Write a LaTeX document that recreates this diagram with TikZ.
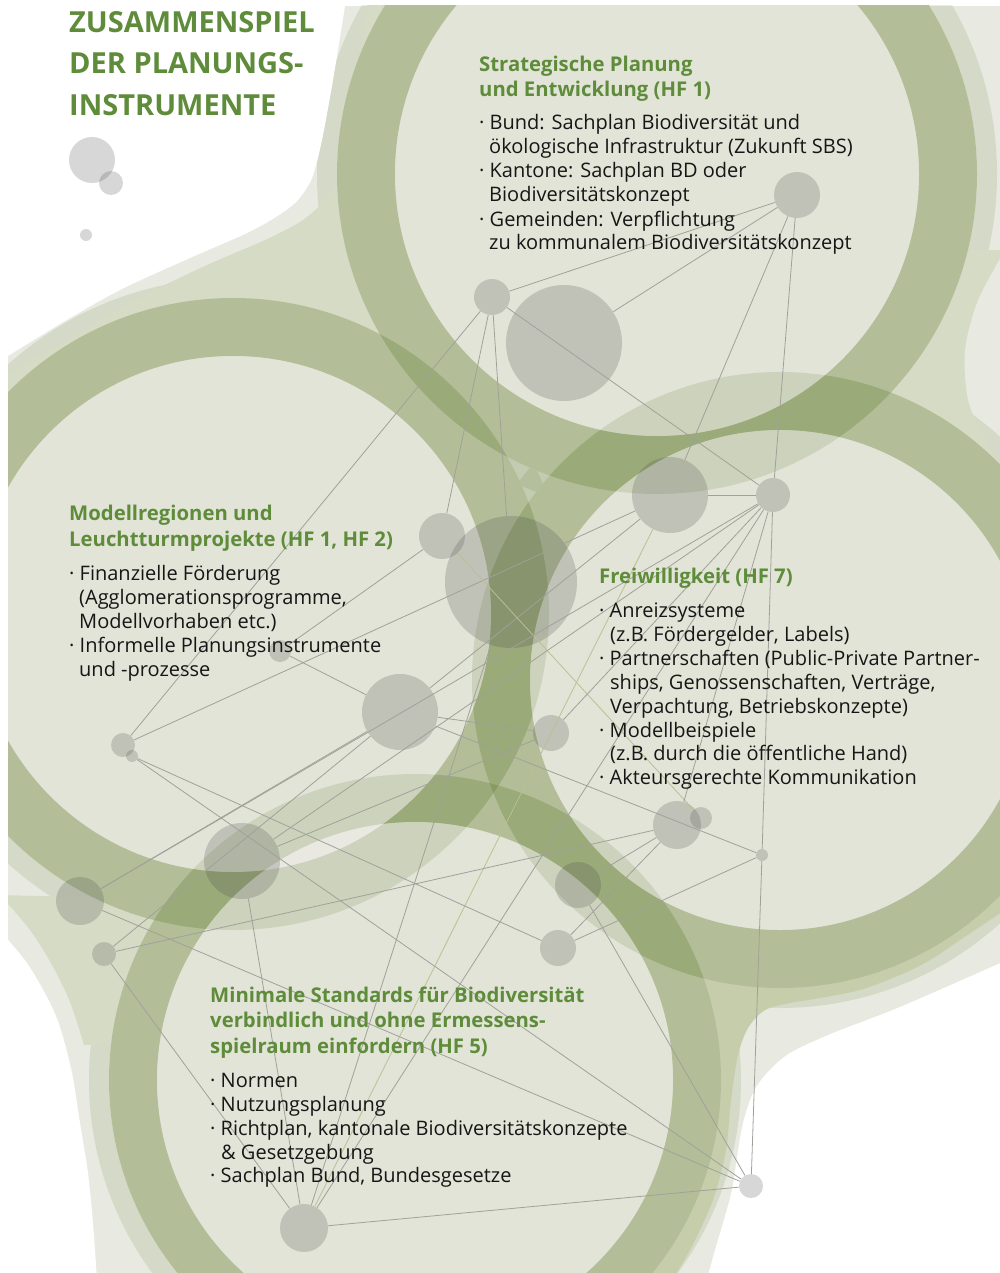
\documentclass[tikz,border=0pt]{standalone}
\usepackage{fontspec}
\setmainfont{Open Sans}
\definecolor{blobA}{RGB}{232,234,225}
\definecolor{neckL}{RGB}{214,219,197}
\definecolor{neckD}{RGB}{198,205,171}
\definecolor{ringC}{RGB}{92,121,43}
\definecolor{innerC}{RGB}{244,242,242}
\definecolor{dotC}{RGB}{70,70,70}
\definecolor{lineC}{RGB}{160,161,154}
\definecolor{oliveL}{RGB}{186,192,146}
\definecolor{titleC}{RGB}{94,140,58}
\definecolor{bodyC}{RGB}{22,22,22}
\begin{document}
\begin{tikzpicture}[x=1pt,y=-1pt,
  dot/.style={circle, inner sep=0pt, draw=none, fill=dotC, fill opacity=0.21},
  edge/.style={draw=lineC, line width=0.8pt},
  oedge/.style={draw=oliveL, line width=0.8pt},
  ttl/.style={anchor=base west, inner sep=0pt, text=titleC, font=\fontsize{29}{41}\selectfont\bfseries},
  hd/.style={anchor=base west, inner sep=0pt, text=titleC, font=\fontsize{20.3}{25}\selectfont\bfseries},
  bd/.style={anchor=base west, inner sep=0pt, text=bodyC, font=\fontsize{20}{24}\selectfont},
  halo/.style={fill=ringC, fill opacity=0.14, even odd rule},
  ring/.style={fill=ringC, fill opacity=0.286, even odd rule},
  inner/.style={fill=innerC, fill opacity=0.4}
]
\useasboundingbox (0,0) rectangle (1000,1273);
\coordinate (cT) at (657,174);
\coordinate (cL) at (233,614);
\coordinate (cR) at (780,680);
\coordinate (cB) at (415,1080);
\begin{scope}
\clip (8,6) rectangle (1000,1273);
\fill[blobA] (8,6) rectangle (1000,1273);
% halos
\fill[halo] (cT) circle (340pt) (cT) circle (320pt);
\fill[halo] (cL) circle (336pt) (cL) circle (316pt);
\fill[halo] (cR) circle (328pt) (cR) circle (308pt);
\fill[halo] (cB) circle (326pt) (cB) circle (306pt);
% necks
\fill[neckL] (450,0) -- plot[smooth] coordinates {(368,0) (358,80) (347,140) (337,178) (322,203) (300,222) (265,240) (205,266) (135,300) (70,338) (0,378)} -- (0,450) -- (300,450) -- (450,250) -- cycle;
\fill[neckL] plot[smooth] coordinates {(0,895) (30,930) (52,965) (70,1002) (84,1045)} -- (200,1040) -- (200,900) -- cycle;
\fill[neckL] plot[smooth] coordinates {(1005,250) (978,300) (965,350) (968,400) (985,440) (1005,470)} -- (850,470) -- (850,250) -- cycle;
\fill[neckD] plot[smooth] coordinates {(1005,910) (960,940) (930,960) (900,975) (860,990) (820,998) (790,1003) (765,1010) (748,1028) (738,1055) (731,1100) (726,1150) (713,1200) (690,1250) (672,1280)} -- (500,1280) -- (600,900) -- (1005,800) -- cycle;
% white regions
\fill[white] (0,0) -- plot[smooth] coordinates {(345,0) (345,6) (333,80) (322,140) (312,178) (297,201) (276,217) (245,234) (190,258) (120,290) (60,324) (0,361)} -- cycle;
\fill[white] (0,930) -- plot[smooth] coordinates {(3,934) (27,963) (47,997) (60,1027) (72,1073) (80,1123) (88,1173) (93,1223) (97,1280)} -- (0,1280) -- cycle;
\fill[white] plot[smooth] coordinates {(1005,961) (900,1007) (833,1033) (790,1053) (767,1073) (753,1093) (743,1123) (737,1157) (732,1190) (723,1223) (713,1257) (707,1280)} -- (1005,1280) -- cycle;
% disks
\fill[neckL] (cT) circle (320pt);
\fill[neckL] (cL) circle (316pt);
\fill[neckL] (cR) circle (308pt);
\fill[neckL] (cB) circle (306pt);
% rings
\fill[ring] (cT) circle (320pt) (cT) circle (262pt);
\fill[ring] (cL) circle (316pt) (cL) circle (258pt);
\fill[ring] (cR) circle (308pt) (cR) circle (250pt);
\fill[ring] (cB) circle (306pt) (cB) circle (258pt);
% interiors
\fill[inner] (cT) circle (262pt);
\fill[inner] (cL) circle (258pt);
\fill[inner] (cR) circle (250pt);
\fill[inner] (cB) circle (258pt);
\end{scope}
% nodes
\node[dot, minimum size=46pt] (A) at (92,160) {};
\node[dot, minimum size=24pt] (B) at (111,183) {};
\node[dot, minimum size=12pt] (C) at (86,235) {};
\node[dot, minimum size=36pt] (D) at (492,297) {};
\node[dot, minimum size=46pt] (E) at (797,195) {};
\node[dot, minimum size=116pt] (F) at (564,343) {};
\node[dot, minimum size=76pt] (G) at (670,495) {};
\node[dot, minimum size=34pt] (H) at (773,495) {};
\node[dot, minimum size=46pt] (I) at (442,536) {};
\node[dot, minimum size=132pt] (J) at (511,582) {};
\node[dot, minimum size=22pt] (K) at (280,651) {};
\node[dot, minimum size=76pt] (L) at (400,712) {};
\node[dot, minimum size=24pt] (M) at (123,745) {};
\node[dot, minimum size=12pt] (N) at (132,756) {};
\node[dot, minimum size=36pt] (O) at (551,733) {};
\node[dot, minimum size=48pt] (P) at (677,825) {};
\node[dot, minimum size=22pt] (Q) at (701,818) {};
\node[dot, minimum size=12pt] (R) at (762,855) {};
\node[dot, minimum size=76pt] (S) at (242,861) {};
\node[dot, minimum size=48pt] (T) at (80,901) {};
\node[dot, minimum size=46pt] (U) at (578,885) {};
\node[dot, minimum size=24pt] (V) at (104,954) {};
\node[dot, minimum size=36pt] (W) at (558,948) {};
\node[dot, minimum size=24pt] (X) at (751,1186) {};
\node[dot, minimum size=48pt] (Y) at (304,1228) {};
% edges
\draw[edge] (D) -- (E);
\draw[edge] (F) -- (E);
\draw[edge] (D) -- (M);
\draw[edge] (D) -- (I);
\draw[edge] (D) -- (J);
\draw[edge] (D) -- (H);
\draw[edge] (E) -- (G);
\draw[edge] (E) -- (H);
\draw[edge] (H) -- (R);
\draw[edge] (R) -- (X);
\draw[edge] (G) -- (H);
\draw[edge] (G) -- (M);
\draw[oedge] (G) -- (Y);
\draw[edge] (G) -- (L);
\draw[edge] (I) -- (K);
\draw[oedge] (I) -- (Q);
\draw[edge] (K) -- (L);
\draw[edge] (L) -- (R);
\draw[edge] (L) -- (T);
\draw[edge] (L) -- (V);
\draw[edge] (N) -- (W);
\draw[edge] (N) -- (X);
\draw[edge] (T) -- (X);
\draw[edge] (U) -- (X);
\draw[edge] (P) -- (V);
\draw[edge] (P) -- (W);
\draw[edge] (R) -- (W);
\draw[edge] (S) -- (Y);
\draw[edge] (V) -- (Y);
\draw[edge] (Y) -- (X);
\draw[edge] (J) -- (Y);
\draw[edge] (H) -- (Y);
\draw[edge] (H) -- (T);
\draw[edge] (H) -- (S);
\draw[edge] (H) -- (P);
\draw[edge] (O) -- (H);
\draw[edge] (S) -- (O);
\draw[edge] (U) -- (P);
\draw[edge] (L) -- (O);
% title
\node[ttl] (ttl1) at (69,33) {ZUSAMMENSPIEL};
\node[ttl] (ttl2) at (69,74) {DER PLANUNGS-};
\node[ttl] (ttl3) at (69,116) {INSTRUMENTE};
% top block
\node[hd] (h1a) at (479,72) {Strategische Planung};
\node[hd] (h1b) at (479,97) {und Entwicklung (HF 1)};
\node[bd] (b1a) at (479,130) {· Bund: Sachplan Biodiversität und};
\node[bd] (b1b) at (489,154) {ökologische Infrastruktur (Zukunft SBS)};
\node[bd] (b1c) at (479,178) {· Kantone: Sachplan BD oder};
\node[bd] (b1d) at (489,202) {Biodiversitätskonzept};
\node[bd] (b1e) at (479,226) {· Gemeinden: Verpflichtung};
\node[bd] (b1f) at (489,250) {zu kommunalem Biodiversitätskonzept};
% left block
\node[hd] (h2a) at (69,520) {Modellregionen und};
\node[hd] (h2b) at (69,546) {Leuchtturmprojekte (HF 1, HF 2)};
\node[bd] (b2a) at (69,580) {· Finanzielle Förderung};
\node[bd] (b2b) at (79,604) {(Agglomerationsprogramme,};
\node[bd] (b2c) at (79,628) {Modellvorhaben etc.)};
\node[bd] (b2d) at (69,652) {· Informelle Planungsinstrumente};
\node[bd] (b2e) at (79,676) {und -prozesse};
% right block
\node[hd] (h3a) at (599,583) {Freiwilligkeit (HF 7)};
\node[bd] (b3a) at (599,617) {· Anreizsysteme};
\node[bd] (b3b) at (610,641) {(z.B. Fördergelder, Labels)};
\node[bd] (b3c) at (599,665) {· Partnerschaften (Public-Private Partner-};
\node[bd] (b3d) at (610,689) {ships, Genossenschaften, Verträge,};
\node[bd] (b3e) at (610,713) {Verpachtung, Betriebskonzepte)};
\node[bd] (b3f) at (599,737) {· Modellbeispiele};
\node[bd] (b3g) at (610,760) {(z.B. durch die öffentliche Hand)};
\node[bd] (b3h) at (599,784) {· Akteursgerechte Kommunikation};
% bottom block
\node[hd] (h4a) at (210,1002) {Minimale Standards für Biodiversität};
\node[hd] (h4b) at (210,1027) {verbindlich und ohne Ermessens-};
\node[hd] (h4c) at (210,1053) {spielraum einfordern (HF 5)};
\node[bd] (b4a) at (210,1087) {· Normen};
\node[bd] (b4b) at (210,1111) {· Nutzungsplanung};
\node[bd] (b4c) at (210,1135) {· Richtplan, kantonale Biodiversitätskonzepte};
\node[bd] (b4d) at (221,1159) {\& Gesetzgebung};
\node[bd] (b4e) at (210,1182) {· Sachplan Bund, Bundesgesetze};
\end{tikzpicture}
\end{document}
